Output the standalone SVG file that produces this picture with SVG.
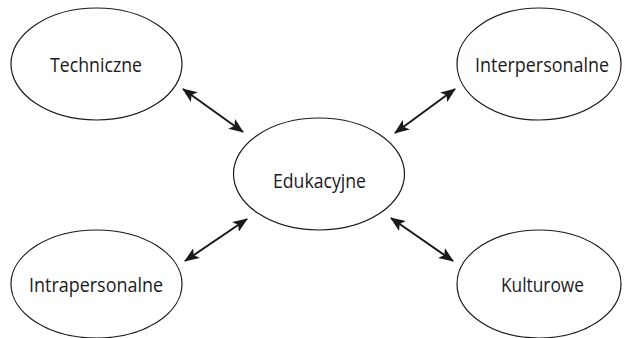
<svg xmlns="http://www.w3.org/2000/svg" width="625" height="338" viewBox="0 0 625 338">
<defs>
<marker id="ah" viewBox="0 0 15 12" refX="14" refY="6" markerWidth="15" markerHeight="12" orient="auto-start-reverse" markerUnits="userSpaceOnUse">
<path d="M0,0 L15,6 L0,12 L3.5,6 Z" fill="#1a1a1a"/>
</marker>
</defs>
<style>
.n ellipse{fill:#fff;stroke:#1a1a1a;stroke-width:1.2}
.n text{font-family:"Open Sans","DejaVu Sans",sans-serif;font-size:20px;fill:#1a1a1a;text-anchor:middle}
.c line{stroke:#1a1a1a;stroke-width:2;marker-start:url(#ah);marker-end:url(#ah)}
</style>
<rect width="625" height="338" fill="#fff"/>
<g class="c" id="connectors">
<line x1="183" y1="89" x2="243" y2="132"/>
<line x1="395" y1="133" x2="455" y2="89"/>
<line x1="185" y1="261" x2="247" y2="219"/>
<line x1="391" y1="218" x2="453" y2="261"/>
</g>
<g class="n" id="techniczne"><ellipse cx="96.5" cy="64" rx="85.5" ry="56"/><text x="96" y="72" textLength="92" lengthAdjust="spacingAndGlyphs">Techniczne</text></g>
<g class="n" id="interpersonalne"><ellipse cx="539" cy="64" rx="82" ry="56"/><text x="542" y="72" textLength="134" lengthAdjust="spacingAndGlyphs">Interpersonalne</text></g>
<g class="n" id="edukacyjne"><ellipse cx="319" cy="174" rx="85.5" ry="56"/><text x="319.5" y="188" textLength="93" lengthAdjust="spacingAndGlyphs">Edukacyjne</text></g>
<g class="n" id="intrapersonalne"><ellipse cx="96.5" cy="284" rx="85.5" ry="54"/><text x="96" y="292" textLength="134" lengthAdjust="spacingAndGlyphs">Intrapersonalne</text></g>
<g class="n" id="kulturowe"><ellipse cx="539" cy="284" rx="82" ry="54"/><text x="542.5" y="292" textLength="83" lengthAdjust="spacingAndGlyphs">Kulturowe</text></g>
</svg>
